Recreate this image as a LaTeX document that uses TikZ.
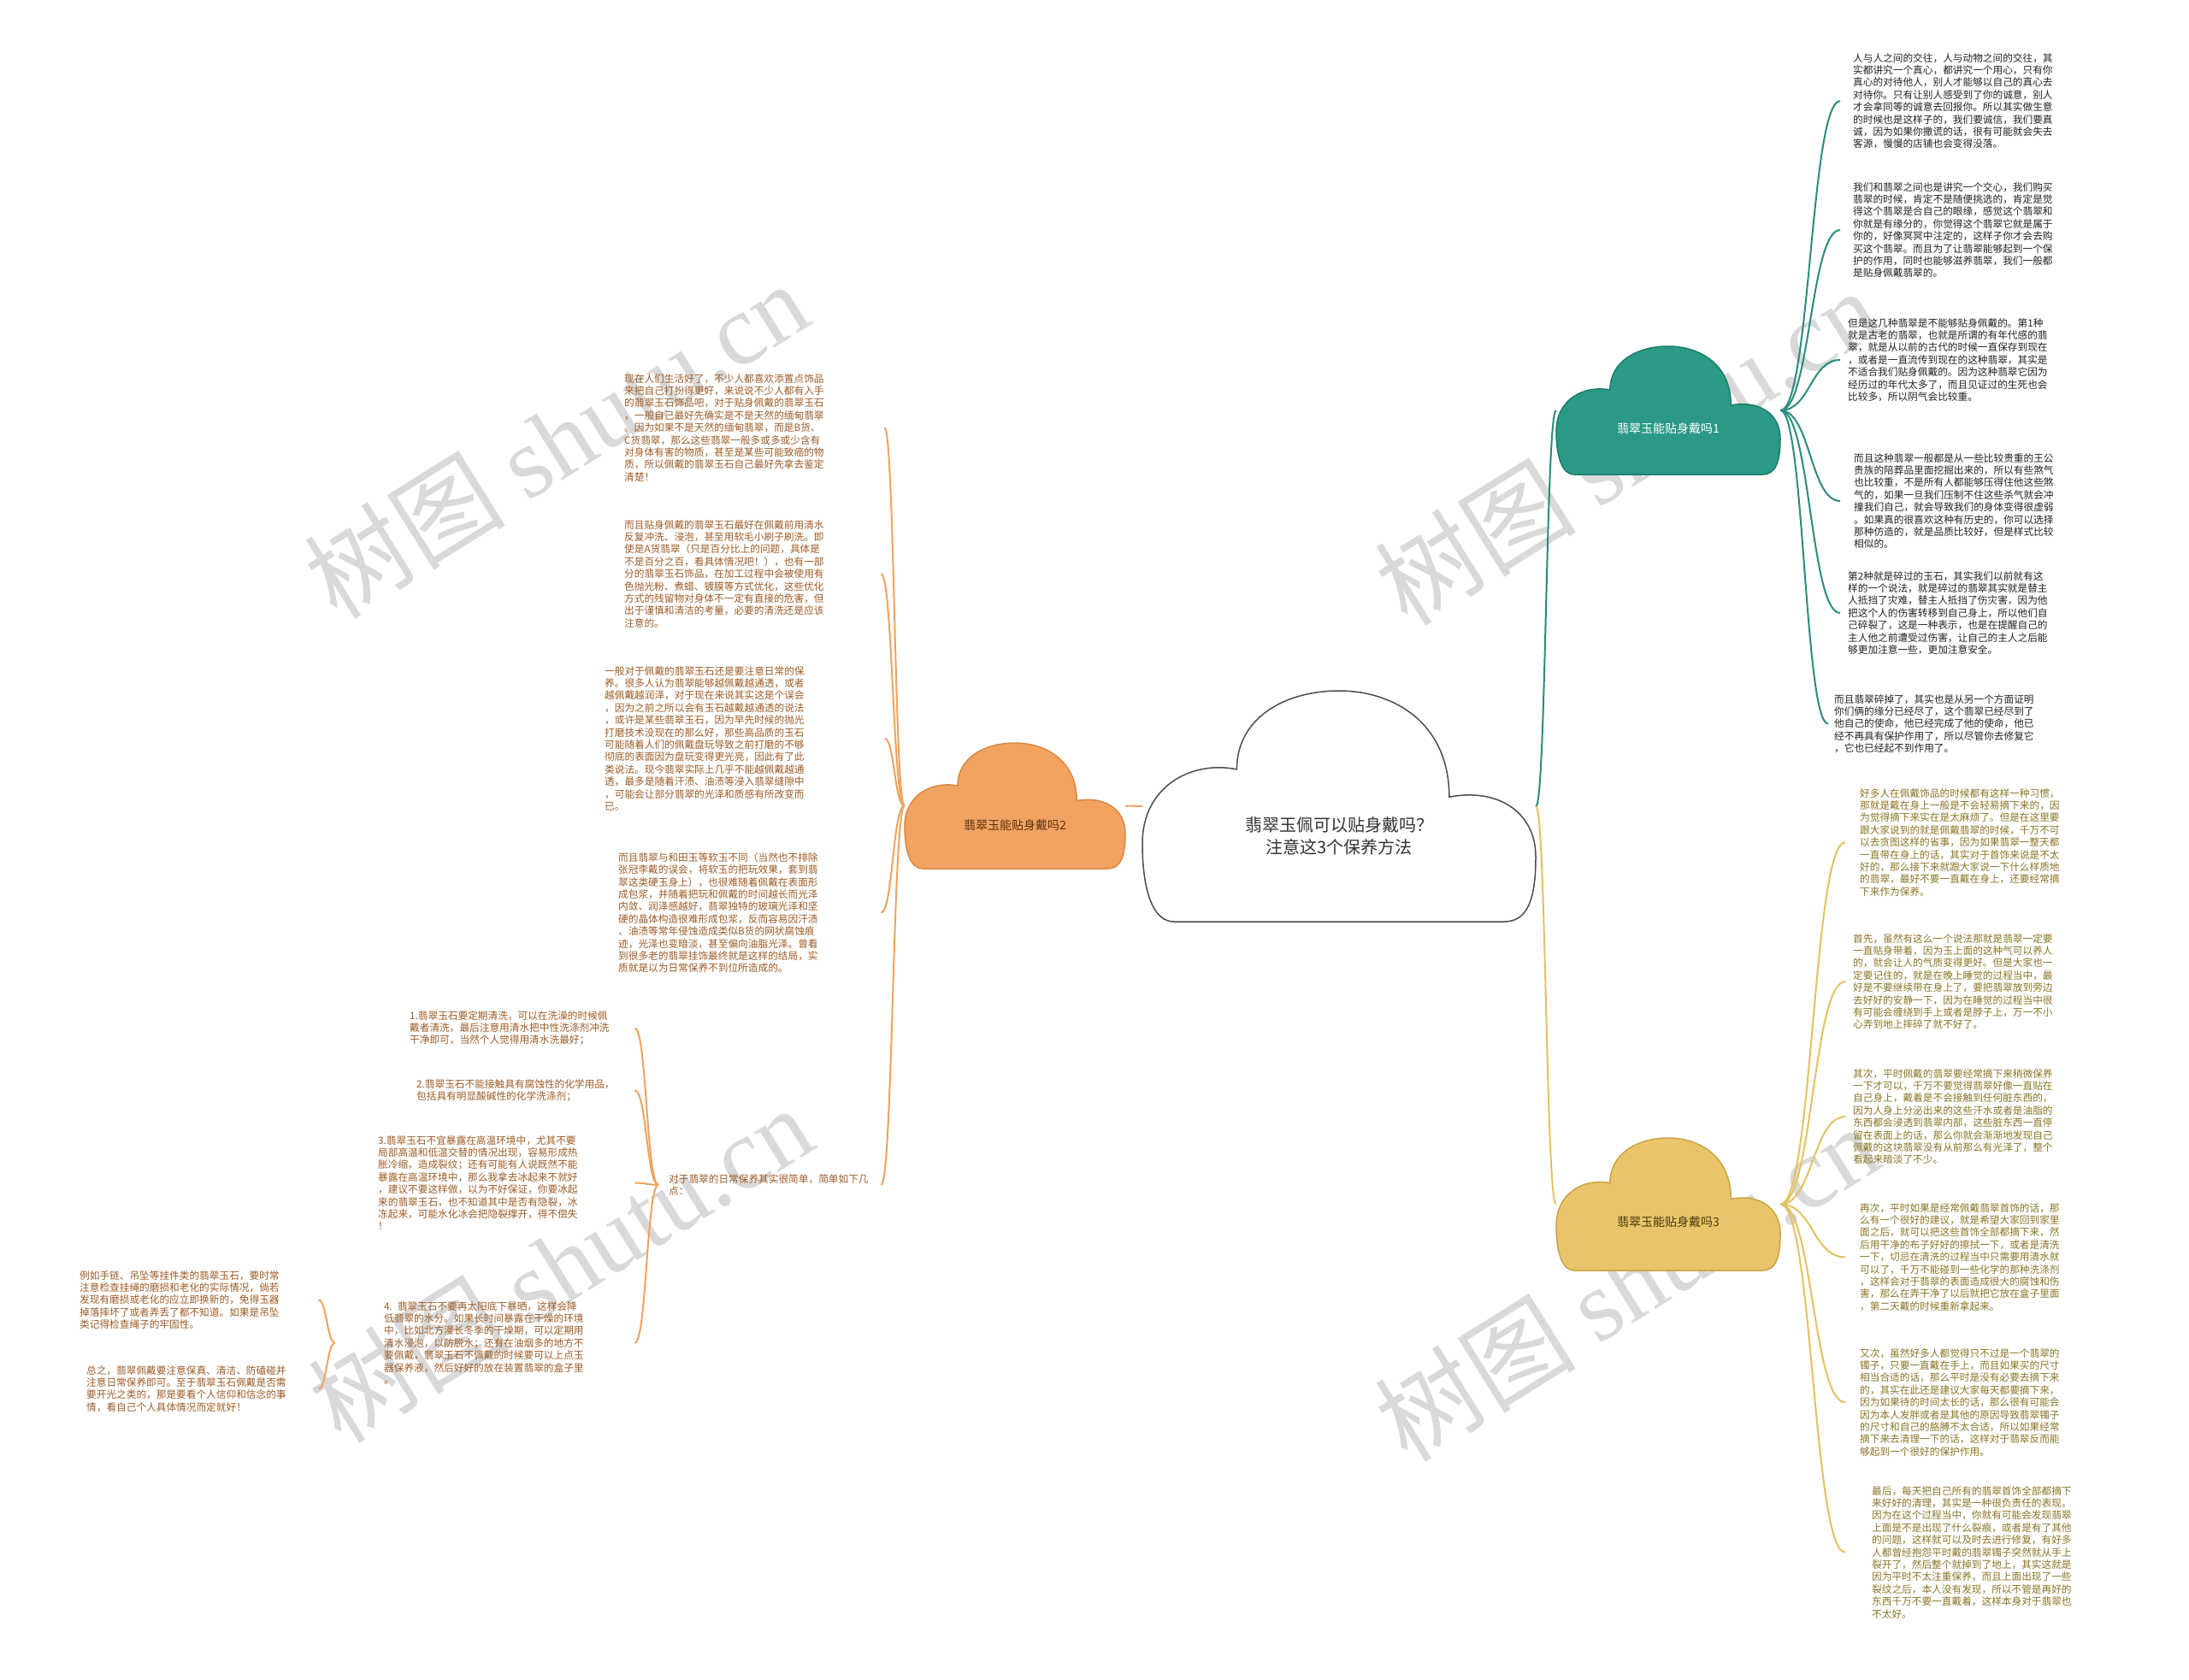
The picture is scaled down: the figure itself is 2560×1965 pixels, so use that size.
\documentclass[tikz,border=0pt]{standalone}
\usepackage{fontspec}
\setmainfont{Noto Sans CJK SC}
\newfontfamily\wmlatin{Liberation Serif}
\usetikzlibrary{calc}

\definecolor{orfill}{HTML}{F2A261}
\definecolor{ordraw}{HTML}{D98A45}
\definecolor{orline}{HTML}{EFA35E}
\definecolor{ortext}{HTML}{9C5B25}
\definecolor{orlab}{HTML}{5A3310}
\definecolor{tlfill}{HTML}{2A9A86}
\definecolor{tldraw}{HTML}{1E7C6B}
\definecolor{tlline}{HTML}{2A8C7C}
\definecolor{tltext}{HTML}{222222}
\definecolor{ylfill}{HTML}{E9C46A}
\definecolor{yldraw}{HTML}{C9A445}
\definecolor{ylline}{HTML}{E2C262}
\definecolor{yltext}{HTML}{8A7424}
\definecolor{yllab}{HTML}{4A3B0E}

\newcommand\cloudshape[6]{%
  \begin{scope}[shift={(#1,#2)},x=#3pt,y=-#4pt]
  \filldraw[fill=#5,draw=#6,line width=1.5pt]
   (0.08,1) -- (0.92,1) .. controls (0.98,1) and (1,0.9) .. (1,0.72)
   .. controls (1,0.52) and (0.9,0.42) .. (0.78,0.46)
   .. controls (0.78,0.14) and (0.64,0) .. (0.5,0)
   .. controls (0.36,0) and (0.24,0.12) .. (0.24,0.34)
   .. controls (0.12,0.3) and (0,0.42) .. (0,0.66)
   .. controls (0,0.88) and (0.03,1) .. (0.08,1) -- cycle;
  \end{scope}}
\newcommand\conn[3]{\draw[#1] (#2) .. controls ($(#2)!0.5!(#3 |- #2)$) and ($(#2 |- #3)!0.5!(#3)$) .. (#3);}

\tikzset{
  txt/.style={anchor=north west, inner ysep=0pt, text width=236pt, align=left,
    font=\fontsize{11.67pt}{14.4pt}\selectfont},
  otxt/.style={txt, text=ortext},
  ttxt/.style={txt, text=tltext},
  ytxt/.style={txt, text=yltext},
  cbox/.style={rectangle, inner sep=0pt},
  clab/.style={inner sep=0pt, align=center, font=\fontsize{14pt}{17pt}\selectfont},
  oline/.style={draw=orline, line width=2pt},
  tline/.style={draw=tlline, line width=2pt},
  yline/.style={draw=ylline, line width=2pt},
  wm/.style={rotate=32, text=black!15, inner sep=0pt, font=\fontsize{118pt}{118pt}\selectfont},
}

\begin{document}
\begin{tikzpicture}[x=1pt,y=-1pt]
\useasboundingbox (0,0) rectangle (2560,1965);
\fill[white] (0,0) rectangle (2560,1965);

% watermarks
\node[wm] (wm1) at (650,514) {树图 {\wmlatin shutu.cn}};
\node[wm] (wm2) at (655,1478) {树图 {\wmlatin shutu.cn}};
\node[wm] (wm3) at (1902,522) {树图 {\wmlatin shutu.cn}};
\node[wm] (wm4) at (1902,1500) {树图 {\wmlatin shutu.cn}};

% clouds
\cloudshape{1336}{808}{460}{270}{white}{black!70}
\cloudshape{1058}{869}{258}{147}{orfill}{ordraw}
\cloudshape{1820}{405}{262}{150}{tlfill}{tldraw}
\cloudshape{1820}{1331}{262}{155}{ylfill}{yldraw}

\node[cbox, minimum width=460pt, minimum height=270pt] (C) at (1566,943) {};
\node[cbox, minimum width=258pt, minimum height=147pt] (O) at (1187,942.5) {};
\node[cbox, minimum width=262pt, minimum height=150pt] (T) at (1951,480) {};
\node[cbox, minimum width=262pt, minimum height=155pt] (Y) at (1951,1408.5) {};

\node[clab, text=black!80, font=\fontsize{20pt}{26pt}\selectfont] (Clab) at ([yshift=-35pt]C.center) {翡翠玉佩可以贴身戴吗？\\注意这3个保养方法};
\node[clab, text=orlab] (Olab) at ([yshift=-23pt]O.center) {翡翠玉能贴身戴吗2};
\node[clab, text=white] (Tlab) at ([yshift=-21pt]T.center) {翡翠玉能贴身戴吗1};
\node[clab, text=yllab] (Ylab) at ([yshift=-21pt]Y.center) {翡翠玉能贴身戴吗3};

% left (orange) texts
\node[otxt, inner xsep=68pt] (L1) at (662,437) {现在人们生活好了，不少人都喜欢添置点饰品\\来把自己打扮得更好，来说说不少人都有入手\\的翡翠玉石饰品吧，对于贴身佩戴的翡翠玉石\\，一般自己最好先确实是不是天然的缅甸翡翠\\。因为如果不是天然的缅甸翡翠，而是B货、\\C货翡翠，那么这些翡翠一般多或多或少含有\\对身体有害的物质，甚至是某些可能致癌的物\\质，所以佩戴的翡翠玉石自己最好先拿去鉴定\\清楚！};
\node[otxt, inner xsep=64pt] (L2) at (666,608) {而且贴身佩戴的翡翠玉石最好在佩戴前用清水\\反复冲洗、浸泡，甚至用软毛小刷子刷洗。即\\使是A货翡翠（只是百分比上的问题，具体是\\不是百分之百，看具体情况吧！），也有一部\\分的翡翠玉石饰品，在加工过程中会被使用有\\色抛光粉、煮蜡、镀膜等方式优化，这些优化\\方式的残留物对身体不一定有直接的危害，但\\出于谨慎和清洁的考量，必要的清洗还是应该\\注意的。};
\node[otxt, inner xsep=91pt] (L3) at (616,779) {一般对于佩戴的翡翠玉石还是要注意日常的保\\养。很多人认为翡翠能够越佩戴越通透，或者\\越佩戴越润泽，对于现在来说其实这是个误会\\，因为之前之所以会有玉石越戴越通透的说法\\，或许是某些翡翠玉石，因为早先时候的抛光\\打磨技术没现在的那么好，那些高品质的玉石\\可能随着人们的佩戴盘玩导致之前打磨的不够\\彻底的表面因为盘玩变得更光亮，因此有了此\\类说法。现今翡翠实际上几乎不能越佩戴越通\\透，最多是随着汗渍、油渍等浸入翡翠缝隙中\\，可能会让部分翡翠的光泽和质感有所改变而\\已。};
\node[otxt, inner xsep=71pt] (L4) at (652,997) {而且翡翠与和田玉等软玉不同（当然也不排除\\张冠李戴的误会，将软玉的把玩效果，套到翡\\翠这类硬玉身上），也很难随着佩戴在表面形\\成包浆，并随着把玩和佩戴的时间越长而光泽\\内敛、润泽感越好，翡翠独特的玻璃光泽和坚\\硬的晶体构造很难形成包浆，反而容易因汗渍\\、油渍等常年侵蚀造成类似B货的网状腐蚀痕\\迹，光泽也变暗淡，甚至偏向油脂光泽。曾看\\到很多老的翡翠挂饰最终就是这样的结局，实\\质就是以为日常保养不到位所造成的。};
\node[otxt, inner xsep=12pt] (D) at (770,1373) {对于翡翠的日常保养其实很简单，简单如下几\\点：};
\node[otxt, inner xsep=27pt] (I1) at (452,1182) {1.翡翠玉石要定期清洗，可以在洗澡的时候佩\\戴者清洗，最后注意用清水把中性洗涤剂冲洗\\干净即可，当然个人觉得用清水洗最好；};
\node[otxt, inner xsep=19pt] (I2) at (468,1262) {2.翡翠玉石不能接触具有腐蚀性的化学用品，\\包括具有明显酸碱性的化学洗涤剂；};
\node[otxt, inner xsep=64pt] (I3) at (378,1328) {3.翡翠玉石不宜暴露在高温环境中，尤其不要\\局部高温和低温交替的情况出现，容易形成热\\胀冷缩，造成裂纹；还有可能有人说既然不能\\暴露在高温环境中，那么我拿去冰起来不就好\\，建议不要这样做，以为不好保证，你要冰起\\来的翡翠玉石，也不知道其中是否有隐裂，冰\\冻起来，可能水化冰会把隐裂撑开，得不偿失\\！};
\node[otxt, inner xsep=57pt] (I4) at (392,1522) {4. 翡翠玉石不要再太阳底下暴晒，这样会降\\低翡翠的水分。如果长时间暴露在干燥的环境\\中，比如北方漫长冬季的干燥期，可以定期用\\清水浸泡，以防脱水；还有在油烟多的地方不\\要佩戴，翡翠玉石不佩戴的时候要可以上点玉\\器保养液，然后好好的放在装置翡翠的盒子里\\。};
\node[otxt, inner xsep=43pt] (F1) at (50,1486) {例如手链、吊坠等挂件类的翡翠玉石，要时常\\注意检查挂绳的磨损和老化的实际情况，倘若\\发现有磨损或老化的应立即换新的，免得玉器\\掉落摔坏了或者弄丢了都不知道。如果是吊坠\\类记得检查绳子的牢固性。};
\node[otxt, inner xsep=35pt] (F2) at (66,1597) {总之，翡翠佩戴要注意保真、清洁、防磕碰并\\注意日常保养即可。至于翡翠玉石佩戴是否需\\要开光之类的，那是要看个人信仰和信念的事\\情，看自己个人具体情况而定就好！};

% right (teal) texts
\node[ttxt, inner xsep=15pt] (R1) at (2152,62) {人与人之间的交往，人与动物之间的交往，其\\实都讲究一个真心，都讲究一个用心，只有你\\真心的对待他人，别人才能够以自己的真心去\\对待你。只有让别人感受到了你的诚意，别人\\才会拿同等的诚意去回报你。所以其实做生意\\的时候也是这样子的，我们要诚信，我们要真\\诚，因为如果你撒谎的话，很有可能就会失去\\客源，慢慢的店铺也会变得没落。};
\node[ttxt, inner xsep=15pt] (R2) at (2152,213) {我们和翡翠之间也是讲究一个交心，我们购买\\翡翠的时候，肯定不是随便挑选的，肯定是觉\\得这个翡翠是合自己的眼缘，感觉这个翡翠和\\你就是有缘分的，你觉得这个翡翠它就是属于\\你的，好像冥冥中注定的，这样子你才会去购\\买这个翡翠。而且为了让翡翠能够起到一个保\\护的作用，同时也能够滋养翡翠，我们一般都\\是贴身佩戴翡翠的。};
\node[ttxt, inner xsep=9pt] (R3) at (2152,372) {但是这几种翡翠是不能够贴身佩戴的。第1种\\就是古老的翡翠，也就是所谓的有年代感的翡\\翠，就是从以前的古代的时候一直保存到现在\\，或者是一直流传到现在的这种翡翠，其实是\\不适合我们贴身佩戴的。因为这种翡翠它因为\\经历过的年代太多了，而且见证过的生死也会\\比较多，所以阴气会比较重。};
\node[ttxt, inner xsep=16pt] (R4) at (2152,530) {而且这种翡翠一般都是从一些比较贵重的王公\\贵族的陪葬品里面挖掘出来的，所以有些煞气\\也比较重，不是所有人都能够压得住他这些煞\\气的，如果一旦我们压制不住这些杀气就会冲\\撞我们自己，就会导致我们的身体变得很虚弱\\。如果真的很喜欢这种有历史的，你可以选择\\那种仿造的，就是品质比较好，但是样式比较\\相似的。};
\node[ttxt, inner xsep=9pt] (R5) at (2152,668) {第2种就是碎过的玉石，其实我们以前就有这\\样的一个说法，就是碎过的翡翠其实就是替主\\人抵挡了灾难，替主人抵挡了伤灾害，因为他\\把这个人的伤害转移到自己身上，所以他们自\\己碎裂了，这是一种表示，也是在提醒自己的\\主人他之前遭受过伤害，让自己的主人之后能\\够更加注意一些，更加注意安全。};
\node[ttxt, inner xsep=7pt] (R6) at (2138,812) {而且翡翠碎掉了，其实也是从另一个方面证明\\你们俩的缘分已经尽了，这个翡翠已经尽到了\\他自己的使命，他已经完成了他的使命，他已\\经不再具有保护作用了，所以尽管你去修复它\\，它也已经起不到作用了。};

% right (yellow) texts
\node[ytxt, inner xsep=17pt] (Y1) at (2158,922) {好多人在佩戴饰品的时候都有这样一种习惯，\\那就是戴在身上一般是不会轻易摘下来的，因\\为觉得摘下来实在是太麻烦了。但是在这里要\\跟大家说到的就是佩戴翡翠的时候，千万不可\\以去贪图这样的省事，因为如果翡翠一整天都\\一直带在身上的话，其实对于首饰来说是不太\\好的，那么接下来就跟大家说一下什么样质地\\的翡翠，最好不要一直戴在身上，还要经常摘\\下来作为保养。};
\node[ytxt, inner xsep=9pt] (Y2) at (2158,1092) {首先，虽然有这么一个说法那就是翡翠一定要\\一直贴身带着，因为玉上面的这种气可以养人\\的，就会让人的气质变得更好。但是大家也一\\定要记住的，就是在晚上睡觉的过程当中，最\\好是不要继续带在身上了，要把翡翠放到旁边\\去好好的安静一下，因为在睡觉的过程当中很\\有可能会缠绕到手上或者是脖子上，万一不小\\心弄到地上摔碎了就不好了。};
\node[ytxt, inner xsep=9pt] (Y3) at (2158,1250) {其次，平时佩戴的翡翠要经常摘下来稍微保养\\一下才可以，千万不要觉得翡翠好像一直贴在\\自己身上，戴着是不会接触到任何脏东西的，\\因为人身上分泌出来的这些汗水或者是油脂的\\东西都会浸透到翡翠内部，这些脏东西一直停\\留在表面上的话，那么你就会渐渐地发现自己\\佩戴的这块翡翠没有从前那么有光泽了，整个\\看起来暗淡了不少。};
\node[ytxt, inner xsep=17pt] (Y4) at (2158,1407) {再次，平时如果是经常佩戴翡翠首饰的话，那\\么有一个很好的建议，就是希望大家回到家里\\面之后，就可以把这些首饰全部都摘下来，然\\后用干净的布子好好的擦拭一下，或者是清洗\\一下，切忌在清洗的过程当中只需要用清水就\\可以了，千万不能碰到一些化学的那种洗涤剂\\，这样会对于翡翠的表面造成很大的腐蚀和伤\\害，那么在弄干净了以后就把它放在盒子里面\\，第二天戴的时候重新拿起来。};
\node[ytxt, inner xsep=17pt] (Y5) at (2158,1577) {又次，虽然好多人都觉得只不过是一个翡翠的\\镯子，只要一直戴在手上，而且如果买的尺寸\\相当合适的话，那么平时是没有必要去摘下来\\的，其实在此还是建议大家每天都要摘下来，\\因为如果待的时间太长的话，那么很有可能会\\因为本人发胖或者是其他的原因导致翡翠镯子\\的尺寸和自己的胳膊不太合适，所以如果经常\\摘下来去清理一下的话，这样对于翡翠反而能\\够起到一个很好的保护作用。};
\node[ytxt, inner xsep=31pt] (Y6) at (2158,1738) {最后，每天把自己所有的翡翠首饰全部都摘下\\来好好的清理，其实是一种很负责任的表现，\\因为在这个过程当中，你就有可能会发现翡翠\\上面是不是出现了什么裂痕，或者是有了其他\\的问题，这样就可以及时去进行修复，有好多\\人都曾经抱怨平时戴的翡翠镯子突然就从手上\\裂开了，然后整个就掉到了地上，其实这就是\\因为平时不太注重保养，而且上面出现了一些\\裂纹之后，本人没有发现，所以不管是再好的\\东西千万不要一直戴着，这样本身对于翡翠也\\不太好。};

% connectors
\draw[oline] (O.east) -- (C.west);
\conn{tline}{C.east}{T.west}
\conn{yline}{C.east}{Y.west}
\foreach \n in {L1,L2,L3,L4,D} {\conn{oline}{O.west}{\n.east}}
\foreach \n in {I1,I2,I3,I4} {\conn{oline}{D.west}{\n.east}}
\foreach \n in {F1,F2} {\conn{oline}{I4.west}{\n.east}}
\foreach \n in {R1,R2,R3,R4,R5,R6} {\conn{tline}{T.east}{\n.west}}
\foreach \n in {Y1,Y2,Y3,Y4,Y5,Y6} {\conn{yline}{Y.east}{\n.west}}
\end{tikzpicture}
\end{document}
